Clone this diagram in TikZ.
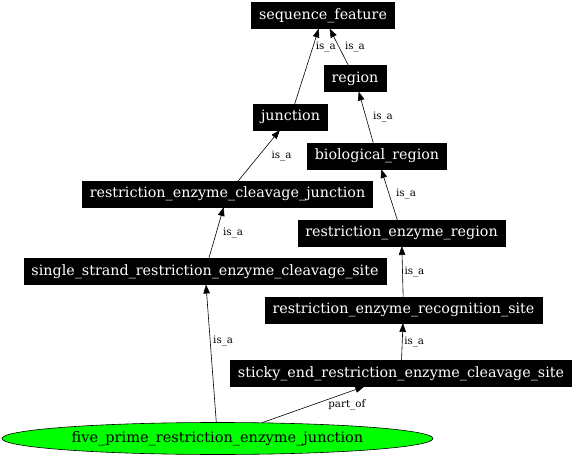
\documentclass[tikz,border=0pt]{standalone}
\usepackage{fontspec}
\setmainfont{DejaVu Serif}
\usetikzlibrary{arrows.meta,shapes.geometric}

\begin{document}
\begin{tikzpicture}[x=1pt,y=-1pt,inner sep=0,outer sep=0,
    term/.style={fill=black,text=white,draw=black,line width=0.6pt,minimum height=26pt,inner xsep=7.5pt,font=\fontsize{14.3}{16}\selectfont},
    focus/.style={ellipse,fill=green,draw=black,line width=0.6pt,minimum width=431pt,minimum height=32pt,font=\fontsize{14.5}{16}\selectfont},
    rel/.style={-{Triangle[length=9pt,width=6.5pt]},line width=0.6pt},
    lab/.style={font=\fontsize{10.3}{12}\selectfont,anchor=west}]

    \useasboundingbox (0,0) rectangle (576,457);

    % Terms
    \node[term] (sf) at (323,15.5) {sequence\_feature};
    \node[term] (region) at (355,78.5) {region};
    \node[term] (junction) at (290.5,117) {junction};
    \node[term] (bioregion) at (377,156) {biological\_region};
    \node[term] (recjunction) at (227.5,194) {restriction\_enzyme\_cleavage\_junction};
    \node[term] (reregion) at (401.5,233) {restriction\_enzyme\_region};
    \node[term] (sssite) at (205,271.5) {single\_strand\_restriction\_enzyme\_cleavage\_site};
    \node[term] (recsite) at (403.5,310) {restriction\_enzyme\_recognition\_site};
    \node[term] (stickysite) at (401,373.5) {sticky\_end\_restriction\_enzyme\_cleavage\_site};

    % The term in focus
    \node[focus] (fivejunction) at (217.5,438.5) {five\_prime\_restriction\_enzyme\_junction};

    % Relations
    \draw[rel] (junction) -- node[lab,pos=0.75,xshift=3pt]{is\_a} (sf);
    \draw[rel] (region) -- node[lab,pos=0.5,xshift=6pt]{is\_a} (sf);
    \draw[rel] (bioregion) -- node[lab,pos=0.5,xshift=7pt]{is\_a} (region);
    \draw[rel] (recjunction) -- node[lab,pos=0.49,xshift=13pt]{is\_a} (junction);
    \draw[rel] (reregion) -- node[lab,pos=0.51,xshift=7pt]{is\_a} (bioregion);
    \draw[rel] (sssite) -- node[lab,pos=0.49,xshift=7pt]{is\_a} (recjunction);
    \draw[rel] (recsite) -- node[lab,pos=0.5,xshift=2pt]{is\_a} (reregion);
    \draw[rel] (stickysite) -- node[lab,pos=0.5,xshift=2pt]{is\_a} (recsite);
    \draw[rel] (fivejunction) -- node[lab,pos=0.59,xshift=3pt]{is\_a} (sssite);
    \draw[rel] (fivejunction) -- node[lab,pos=0.65,anchor=north west]{part\_of} (stickysite);

\end{tikzpicture}
\end{document}
